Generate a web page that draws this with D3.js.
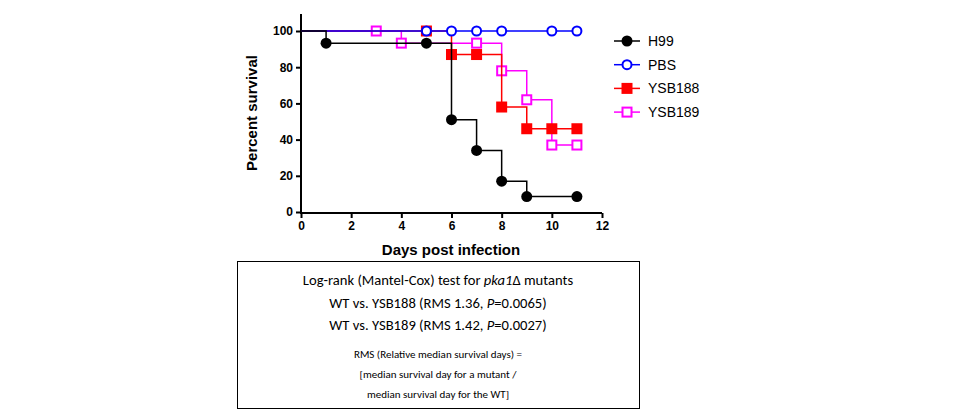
<!DOCTYPE html>
<html><head><meta charset="utf-8">
<script src="https://cdn.jsdelivr.net/npm/d3@7"></script>
<style>body{margin:0;background:#fff}</style></head>
<body><svg id="c" width="960" height="415"></svg>
<script>
const xTicks=[0,2,4,6,8,10,12];
const yTicks=[0,20,40,60,80,100];
const seriesNames=["YSB189","YSB188","PBS","H99"];
const colors={H99:"#000000",PBS:"#0000ff",YSB188:"#ff0000",YSB189:"#ff00ff"};
const stepsH99=[[0,100],[1,93.3],[6,51],[7,34],[8,17],[9,8.5],[11,8.5]];
const marksH99=[[1,93.3],[5,93.3],[6,51],[7,34],[8,17],[9,8.5],[11,8.5]];
const stepsPBS=[[0,100],[11,100]];
const marksPBS=[[5,100],[6,100],[7,100],[8,100],[10,100],[11,100]];
const steps188=[[0,100],[6,87],[8,58],[9,46],[11,46]];
const marks188=[[5,100],[6,87],[7,87],[8,58],[9,46],[10,46],[11,46]];
const steps189=[[0,100],[4,93.3],[8,78],[9,62],[10,37],[11,37]];
const marks189=[[3,100],[4,93.3],[7,93.3],[8,78],[9,62],[10,37],[11,37]];
const data={H99:[stepsH99,marksH99],PBS:[stepsPBS,marksPBS],YSB188:[steps188,marks188],YSB189:[steps189,marks189]};
const legendOrder=["H99","PBS","YSB188","YSB189"];

const svg=d3.select("#c");
const x=d3.scaleLinear().domain([0,12]).range([301,602]);
const y=d3.scaleLinear().domain([0,100]).range([212,31]);
const F="Arial, 'Liberation Sans', sans-serif";

const xa=svg.append("g").attr("transform","translate(0,213)").call(d3.axisBottom(x).tickValues(xTicks).tickSize(5).tickSizeOuter(0));
const ya=svg.append("g").attr("transform","translate(301,0)").call(d3.axisLeft(y).tickValues(yTicks).tickSize(5).tickSizeOuter(0));
ya.select(".domain").attr("d","M0,14V213");
[xa,ya].forEach(a=>{a.selectAll("path,line").attr("stroke","#000").attr("stroke-width",2);
 a.selectAll("text").attr("font-family",F).attr("font-weight","bold").attr("font-size",12).attr("fill","#000");});
xa.select(".domain").attr("d","M300,0H602");

svg.append("text").attr("x",451).attr("y",255).attr("text-anchor","middle").attr("font-family",F).attr("font-weight","bold").attr("font-size",15).text("Days post infection");
svg.append("text").attr("transform","translate(257,113) rotate(-90)").attr("text-anchor","middle").attr("font-family",F).attr("font-weight","bold").attr("font-size",15).text("Percent survival");

const line=d3.line().x(d=>x(d[0])).y(d=>y(d[1])).curve(d3.curveStepAfter);
function marker(g,name,cx,cy){
  const c=colors[name];
  if(name==="H99") g.append("circle").attr("cx",cx).attr("cy",cy).attr("r",5.5).attr("fill",c);
  else if(name==="PBS") g.append("circle").attr("cx",cx).attr("cy",cy).attr("r",4.5).attr("fill","#fff").attr("stroke",c).attr("stroke-width",2);
  else if(name==="YSB188") g.append("rect").attr("x",cx-5.5).attr("y",cy-5.5).attr("width",11).attr("height",11).attr("fill",c);
  else g.append("rect").attr("x",cx-4.5).attr("y",cy-4.5).attr("width",9).attr("height",9).attr("fill","#fff").attr("stroke",c).attr("stroke-width",2);
}
seriesNames.forEach(n=>{
  const g=svg.append("g");
  g.append("path").attr("d",line(data[n][0])).attr("fill","none").attr("stroke",colors[n]).attr("stroke-width",1.5);
  data[n][1].forEach(d=>marker(g,n,x(d[0]),y(d[1])));
});
legendOrder.forEach((n,i)=>{
  const ly=41+i*23.7;
  const g=svg.append("g");
  g.append("line").attr("x1",614).attr("x2",640).attr("y1",ly).attr("y2",ly).attr("stroke",colors[n]).attr("stroke-width",1.5);
  marker(g,n,627,ly);
  g.append("text").attr("x",648).attr("y",ly+5).attr("font-family",F).attr("font-size",14).text(n);
});

svg.append("rect").attr("x",237.5).attr("y",261.5).attr("width",402).attr("height",147).attr("fill","none").attr("stroke","#000").attr("stroke-width",1);
const TF="Carlito, 'Open Sans', 'Liberation Sans', sans-serif";
const big=[["Log-rank (Mantel-Cox) test for ",["pka1","i"],"Δ mutants"],
 ["WT vs. YSB188 (RMS 1.36, ",["P","i"],"=0.0065)"],
 ["WT vs. YSB189 (RMS 1.42, ",["P","i"],"=0.0027)"]];
big.forEach((parts,i)=>{
  const t=svg.append("text").attr("x",438).attr("y",285+i*22.5).attr("text-anchor","middle").attr("font-family",TF).attr("font-size",14.6).attr("fill","#000");
  parts.forEach(p=>{ if(Array.isArray(p)) t.append("tspan").attr("font-style","italic").text(p[0]); else t.append("tspan").text(p);});
});
const small=["RMS (Relative median survival days) =","[median survival day for a mutant  /","median survival day for the  WT]"];
small.forEach((s,i)=>svg.append("text").attr("x",438).attr("y",358+i*20).attr("text-anchor","middle").attr("font-family",TF).attr("font-size",11).attr("fill","#000").text(s));
</script></body></html>
